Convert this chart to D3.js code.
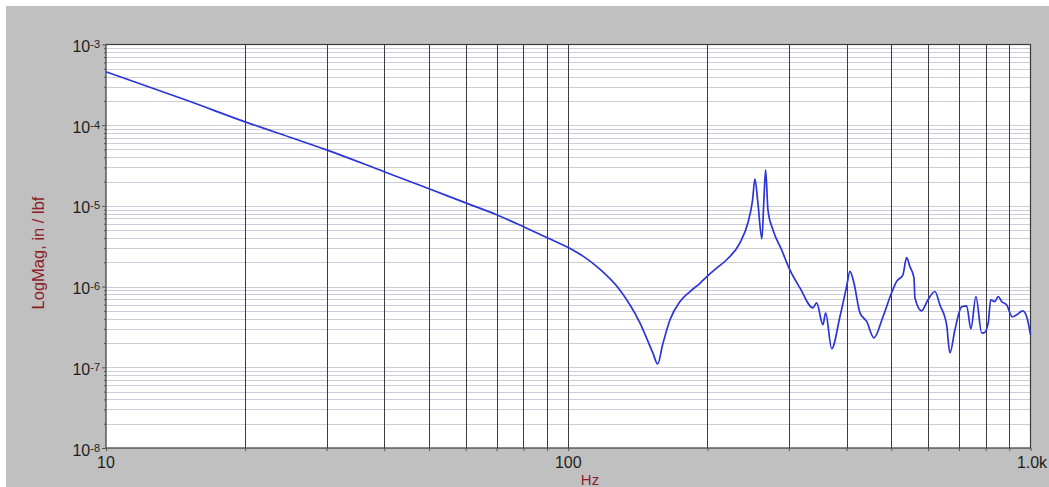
<!DOCTYPE html>
<html><head><meta charset="utf-8">
<script src="https://cdn.jsdelivr.net/npm/d3@7/dist/d3.min.js"></script>
<style>html,body{margin:0;padding:0;background:#fff;}svg{display:block;}</style>
</head><body>
<svg id="chart" width="1049" height="487"></svg>
<script>
const freqs = [10, 15, 20, 25, 30, 40, 50, 60, 70, 80, 90, 100, 108, 117, 129.3, 142.9, 152.4, 156.1, 160, 166.0, 174.5, 183.4, 192.7, 200.3, 209.4, 220.1, 235.2, 244.7, 250.5, 253.4, 257.2, 262.4, 265.0, 267.3, 270.4, 277.2, 289.4, 301.6, 317.1, 338.3, 344.6, 355.6, 360.4, 371.4, 387.0, 400.1, 406.8, 415, 427.6, 442.1, 458.5, 479.6, 500.6, 513.3, 529.7, 539.5, 548.4, 559.5, 562.3, 581.3, 600.0, 621.2, 636.8, 658.4, 669.4, 686.3, 709.6, 727.5, 743.2, 761.9, 784.1, 793.1, 810.3, 820.0, 837.5, 851.3, 866.0, 887.8, 913.0, 933.2, 961.6, 980.9, 1000];
const mags = [4.59e-4, 2.02e-4, 1.10e-4, 7.1e-5, 4.95e-5, 2.65e-5, 1.63e-5, 1.09e-5, 7.77e-6, 5.52e-6, 4.03e-6, 3.05e-6, 2.35e-6, 1.65e-6, 9.1e-7, 3.56e-7, 1.51e-7, 1.10e-7, 1.9e-7, 3.88e-7, 6.53e-7, 8.69e-7, 1.10e-6, 1.36e-6, 1.69e-6, 2.15e-6, 3.49e-6, 6.18e-6, 1.19e-5, 2.17e-5, 1.09e-5, 3.91e-6, 1.19e-5, 2.80e-5, 8.95e-6, 5.06e-6, 2.86e-6, 1.61e-6, 9.66e-7, 5.46e-7, 6.3e-7, 3.37e-7, 4.73e-7, 1.70e-7, 4.23e-7, 1.0e-6, 1.54e-6, 1.11e-6, 4.73e-7, 3.70e-7, 2.32e-7, 4.23e-7, 8.38e-7, 1.16e-6, 1.40e-6, 2.28e-6, 1.77e-6, 1.29e-6, 7.27e-7, 5.01e-7, 6.86e-7, 8.69e-7, 5.94e-7, 3.37e-7, 1.51e-7, 2.92e-7, 5.62e-7, 5.78e-7, 3.0e-7, 7.54e-7, 2.67e-7, 2.67e-7, 3.56e-7, 6.86e-7, 6.53e-7, 7.54e-7, 6.53e-7, 5.94e-7, 4.23e-7, 4.47e-7, 5.01e-7, 4.27e-7, 2.53e-7];
const yTickValues = [1e-3, 1e-4, 1e-5, 1e-6, 1e-7, 1e-8];
const yTickExponents = ["-3", "-4", "-5", "-6", "-7", "-8"];
const xTickValues = [10, 100, 1000];
const xTickLabels = ["10", "100", "1.0k"];
const xTitle = "Hz";
const yTitle = "LogMag, in / lbf";

const svg = d3.select("#chart");
const L = 106, R = 1030.5, T = 44.5, B = 448;
svg.append("rect").attr("x", 6).attr("y", 6).attr("width", 1043).attr("height", 481).attr("fill", "#c0c0c0");
svg.append("rect").attr("x", L).attr("y", T).attr("width", R - L).attr("height", B - T).attr("fill", "#ffffff");

const x = d3.scaleLog().domain([10, 1000]).range([L, R]);
const y = d3.scaleLog().domain([1e-8, 1e-3]).range([B, T]);

const yMinor = [];
for (let e = -8; e < -3; e++) for (let k = 1; k <= 9; k++) yMinor.push(k * Math.pow(10, e));
const xMinor = [];
for (let e = 1; e < 3; e++) for (let k = 1; k <= 9; k++) xMinor.push(k * Math.pow(10, e));

svg.append("g").selectAll("line").data(yMinor.filter(v => v > 1.0001e-8)).join("line")
  .attr("x1", L).attr("x2", R)
  .attr("y1", d => Math.round(y(d)) + 0.5).attr("y2", d => Math.round(y(d)) + 0.5)
  .attr("stroke", "#cdcdda").attr("stroke-width", 1);
svg.append("g").selectAll("line").data(xMinor.filter(v => v > 10.001)).join("line")
  .attr("y1", T).attr("y2", B)
  .attr("x1", d => Math.round(x(d)) + 0.5).attr("x2", d => Math.round(x(d)) + 0.5)
  .attr("stroke", "#3c3c3c").attr("stroke-width", 1);

svg.append("rect").attr("x", L).attr("y", T).attr("width", R - L).attr("height", B - T)
  .attr("fill", "none").attr("stroke", "#3a3a3a").attr("stroke-width", 1.2);

const yAxis = d3.axisLeft(y).tickValues(yMinor.concat([1e-3])).tickSize(3).tickFormat("");
const yg = svg.append("g").attr("transform", `translate(${L},0)`).call(yAxis);
yg.select(".domain").remove();
yg.selectAll(".tick line").attr("stroke", "#555").attr("x2", d => yTickValues.some(v => Math.abs(v - d) / v < 1e-6) ? -4 : -2);

const xAxis = d3.axisBottom(x).tickValues(xMinor.concat([1000])).tickSize(3).tickFormat("");
const xg = svg.append("g").attr("transform", `translate(0,${B})`).call(xAxis);
xg.select(".domain").remove();
xg.selectAll(".tick line").attr("stroke", "#555");

const ylab = svg.append("g").attr("font-family", "Liberation Sans, Arial, sans-serif").attr("fill", "#1e1e1e");
yTickValues.forEach((v, i) => {
  const t = ylab.append("text").attr("x", 100).attr("y", y(v) + 7.5).attr("text-anchor", "end").attr("font-size", 16);
  t.append("tspan").text("10");
  t.append("tspan").attr("font-size", 11).attr("dy", -4).text(yTickExponents[i]);
});
svg.append("g").selectAll("text").data(xTickValues).join("text")
  .attr("x", (d, i) => x(d) + (i === 2 ? 1.5 : 0)).attr("y", 467.5).attr("text-anchor", "middle")
  .attr("font-family", "Liberation Sans, Arial, sans-serif").attr("font-size", 16).attr("fill", "#1e1e1e")
  .text((d, i) => xTickLabels[i]);

svg.append("text").attr("x", 590).attr("y", 485).attr("text-anchor", "middle")
  .attr("font-family", "Liberation Sans, Arial, sans-serif").attr("font-size", 15).attr("fill", "#8e1c2a").text(xTitle);
svg.append("text").attr("transform", "translate(44,253) rotate(-90)").attr("text-anchor", "middle")
  .attr("font-family", "Liberation Sans, Arial, sans-serif").attr("font-size", 16.5).attr("fill", "#8e1c2a").text(yTitle);

const line = d3.line().x((d, i) => x(freqs[i])).y((d, i) => y(mags[i])).curve(d3.curveMonotoneX);
svg.append("path").datum(mags).attr("d", line).attr("fill", "none")
  .attr("stroke", "#2b35d8").attr("stroke-width", 1.7).attr("stroke-linejoin", "round");
</script>
</body></html>
